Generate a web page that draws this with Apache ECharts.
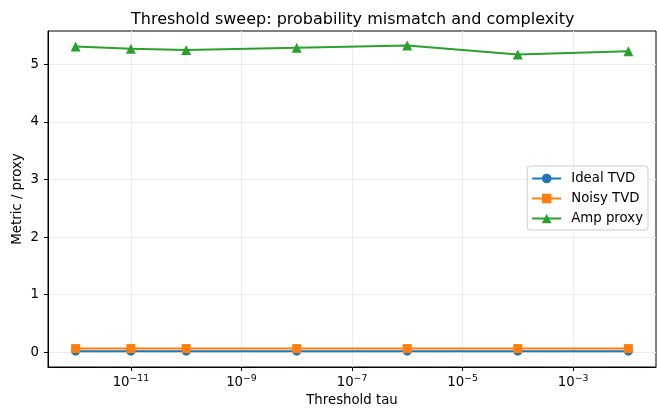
<!DOCTYPE html>
<html>
<head>
<meta charset="utf-8">
<script src="https://cdn.jsdelivr.net/npm/echarts@6/dist/echarts.min.js"></script>
<style>
  html, body { margin: 0; padding: 0; background: #fff; }
  #chart { width: 657px; height: 408px; }
</style>
</head>
<body>
<div id="chart"></div>
<script>
// Threshold values swept (tau) and the metrics measured at each one
const tau = [1e-12, 1e-11, 1e-10, 1e-8, 1e-6, 1e-4, 1e-2];
const idealTVD = [0.02, 0.02, 0.02, 0.02, 0.02, 0.02, 0.02];
const noisyTVD = [0.065, 0.065, 0.065, 0.065, 0.065, 0.065, 0.065];
const ampProxy = [5.31, 5.27, 5.25, 5.29, 5.33, 5.17, 5.23];

// Tick positions (decade exponents on x, plain values on y)
const xTickExponents = [-11, -9, -7, -5, -3];
const yTicks = [0, 1, 2, 3, 4, 5];

const FONT = 'DejaVu Sans';
const logTau = tau.map(v => Math.log10(v));
const pair = ys => logTau.map((x, i) => [x, ys[i]]);

const chart = echarts.init(document.getElementById('chart'), null, { renderer: 'canvas' });

const lineSeries = (name, data, color, symbol, size) => ({
  name, type: 'line', data: pair(data),
  symbol, symbolSize: size, showSymbol: true,
  lineStyle: { color, width: 2 },
  itemStyle: { color },
  z: 3,
  emphasis: { disabled: true },
  animation: false
});

chart.setOption({
  animation: false,
  backgroundColor: '#fff',
  textStyle: { fontFamily: FONT },
  title: {
    text: 'Threshold sweep: probability mismatch and complexity',
    left: 126, top: 7,
    textStyle: { fontFamily: FONT, fontSize: 16, fontWeight: 'normal', color: '#000' }
  },
  grid: {
    left: 48, right: 1, top: 31, bottom: 41,
    outerBoundsMode: 'none',
    show: true, borderColor: '#000', borderWidth: 1, backgroundColor: 'transparent'
  },
  legend: {
    orient: 'vertical', right: 9, top: 166,
    backgroundColor: '#fff', borderColor: '#cccccc', borderWidth: 1, borderRadius: 3,
    padding: [6, 5, 5, 4], itemGap: 7, itemWidth: 29, itemHeight: 12,
    textStyle: { fontFamily: FONT, fontSize: 13.3, color: '#000', padding: [0, 0, 0, 5] },
    data: ['Ideal TVD', 'Noisy TVD', 'Amp proxy']
  },
  xAxis: {
    type: 'value',
    min: -12.5, max: -1.5,
    name: 'Threshold tau', nameLocation: 'middle', nameGap: 27, nameMoveOverlap: false,
    nameTextStyle: { fontFamily: FONT, fontSize: 13.3, color: '#000' },
    axisLine: { show: true, onZero: false, lineStyle: { color: '#000', width: 1 } },
    axisTick: { show: true, inside: false, length: 4, customValues: xTickExponents, lineStyle: { color: '#000' } },
    axisLabel: {
      customValues: xTickExponents, color: '#000', margin: 7,
      formatter: v => '{b|10}{s|\u2212' + Math.abs(v) + '}',
      rich: {
        b: { fontFamily: FONT, fontSize: 13.3, color: '#000' },
        s: { fontFamily: FONT, fontSize: 9.3, color: '#000', verticalAlign: 'bottom', padding: [0, 0, 9, 0] }
      }
    },
    splitLine: { show: true, lineStyle: { color: '#ebebeb', width: 1 } }
  },
  yAxis: {
    type: 'value',
    min: -0.255, max: 5.58,
    name: 'Metric / proxy', nameLocation: 'middle', nameGap: 24, nameRotate: 90, nameMoveOverlap: false,
    nameTextStyle: { fontFamily: FONT, fontSize: 13.3, color: '#000' },
    axisLine: { show: true, onZero: false, lineStyle: { color: '#000', width: 1 } },
    axisTick: { show: true, inside: false, length: 4, customValues: yTicks, lineStyle: { color: '#000' } },
    axisLabel: { customValues: yTicks, color: '#000', fontFamily: FONT, fontSize: 13.3, margin: 9 },
    splitLine: { show: true, lineStyle: { color: '#ebebeb', width: 1 } }
  },
  series: [
    lineSeries('Ideal TVD', idealTVD, '#1f77b4', 'circle', 9),
    lineSeries('Noisy TVD', noisyTVD, '#ff7f0e', 'rect', 9),
    lineSeries('Amp proxy', ampProxy, '#2ca02c', 'triangle', 10)
  ]
});
</script>
</body>
</html>
